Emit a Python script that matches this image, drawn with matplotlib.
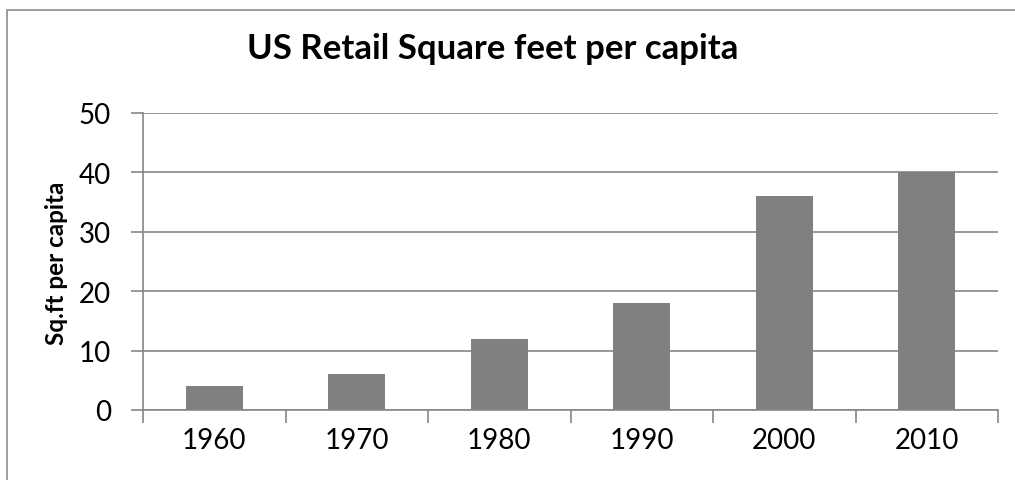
import numpy as np
import matplotlib.pyplot as plt
from matplotlib.patches import Rectangle

years = ['1960', '1970', '1980', '1990', '2000', '2010']
sqft = [4, 6, 12, 18, 36, 40]
yticks = [0, 10, 20, 30, 40, 50]

W, H = 1015, 481
fig = plt.figure(figsize=(W / 100, H / 100), dpi=100)
plt.rcParams['font.family'] = ['Lato', 'DejaVu Sans']

# axes box in pixels: left 143, right 998, top 114, bottom 411
ax = fig.add_axes([143 / W, 1 - 411 / H, (998 - 143) / W, (411 - 114) / H])

grid_col = '#868686'
x = np.arange(len(years))
ax.bar(x, sqft, width=0.4, color='#808080', zorder=3)

ax.set_xlim(-0.5, 5.5)
ax.set_ylim(0, 50)
ax.set_yticks(yticks)
ax.set_yticklabels([str(v) for v in yticks], fontsize=20)
ax.yaxis.grid(True, color=grid_col, linewidth=1.2, zorder=0)

ax.set_xticks(x)
ax.set_xticklabels(years, fontsize=20)
ax.set_xticks(np.arange(-0.5, 6.0, 1.0), minor=True)
ax.tick_params(axis='x', which='major', length=0, pad=12)
ax.tick_params(axis='x', which='minor', length=9, width=1.2, color=grid_col)
ax.tick_params(axis='y', length=9, width=1.2, color=grid_col, pad=14)

for s in ['top', 'right']:
    ax.spines[s].set_visible(False)
for s in ['left', 'bottom']:
    ax.spines[s].set_color(grid_col)
    ax.spines[s].set_linewidth(1.2)
    ax.spines[s].set_zorder(4)

fig.text(56 / W, 1 - 263 / H, 'Sq.ft per capita', rotation=90,
         fontsize=17.5, fontweight='bold', ha='center', va='center')
fig.text(493 / W, 1 - 49 / H, 'US Retail Square feet per capita',
         fontsize=25, fontweight='bold', ha='center', va='center')

# chart border (partially outside the image)
fig.patches.append(Rectangle((7 / W, -0.1), 1.2, 1 - 11 / H + 0.1,
                             transform=fig.transFigure, fill=False,
                             edgecolor='#8c8c8c', linewidth=1.2))

fig.savefig('out.png', dpi=100)
